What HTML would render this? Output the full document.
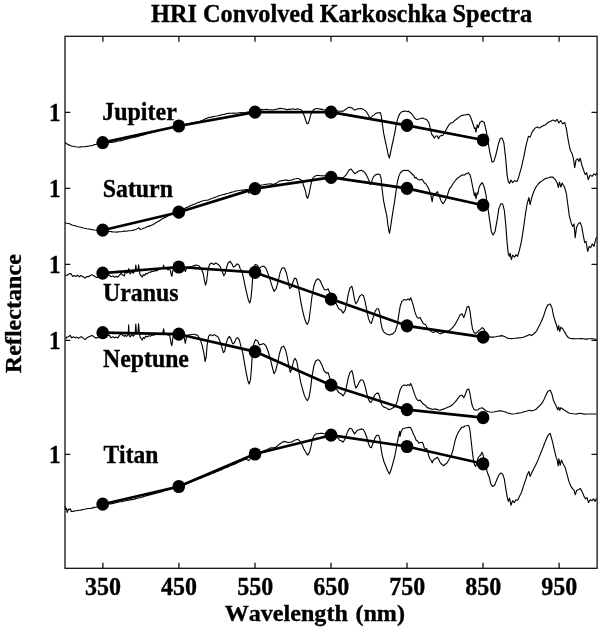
<!DOCTYPE html>
<html><head><meta charset="utf-8"><title>HRI Convolved Karkoschka Spectra</title>
<style>html,body{margin:0;padding:0;background:#fff}svg{display:block}text{font-family:"Liberation Serif","DejaVu Serif",serif;font-weight:bold;font-size:23.8px;fill:#000;stroke:#000;stroke-width:0.35px;font-kerning:none;font-variant-ligatures:none}</style></head><body>
<svg width="600" height="627" viewBox="0 0 600 627">
<rect width="600" height="627" fill="#fff"/>
<g fill="none" stroke="#111" stroke-width="1.3">
<rect x="65.00" y="36.30" width="532.10" height="532.00"/>
<path d="M102.9 36.3v5.5M102.9 568.3v-5.5"/>
<path d="M178.9 36.3v5.5M178.9 568.3v-5.5"/>
<path d="M255.0 36.3v5.5M255.0 568.3v-5.5"/>
<path d="M331.0 36.3v5.5M331.0 568.3v-5.5"/>
<path d="M407.0 36.3v5.5M407.0 568.3v-5.5"/>
<path d="M483.0 36.3v5.5M483.0 568.3v-5.5"/>
<path d="M559.1 36.3v5.5M559.1 568.3v-5.5"/>
<path d="M65.00 112.35h5.3M597.10 112.35h-5.6" stroke-width="1.1"/>
<path d="M65.00 188.35h5.3M597.10 188.35h-5.6" stroke-width="1.1"/>
<path d="M65.00 264.35h5.3M597.10 264.35h-5.6" stroke-width="1.1"/>
<path d="M65.00 340.35h5.3M597.10 340.35h-5.6" stroke-width="1.1"/>
<path d="M65.00 454.35h5.3M597.10 454.35h-5.6" stroke-width="1.1"/>
</g>
<g fill="none" stroke="#000" stroke-width="1.12" stroke-linejoin="round">
<polyline points="65.0,142.6 66.5,143.5 68.0,144.6 69.4,145.1 70.7,145.7 72.1,146.2 73.7,146.3 75.4,146.8 77.1,147.0 78.8,147.2 80.4,146.9 82.1,146.8 83.6,146.7 85.1,146.7 86.6,146.4 88.1,146.2 89.8,145.8 91.5,145.7 93.2,145.2 94.5,144.6 95.8,144.5 97.2,143.8 99.0,143.5 100.8,142.9 102.6,142.4 104.5,142.6 106.4,142.5 108.2,142.8 109.8,142.4 111.5,142.5 113.1,142.2 114.7,141.9 116.3,141.6 117.9,141.0 119.5,140.9 121.1,140.6 122.7,140.2 124.3,139.6 125.9,139.3 127.5,138.9 129.1,138.5 130.8,138.0 132.4,137.8 134.0,137.2 135.6,137.2 137.2,136.5 138.8,136.1 140.4,135.8 142.0,135.2 143.6,134.9 145.2,134.4 146.8,133.8 148.4,133.2 150.1,132.9 151.7,132.4 153.3,132.0 154.9,131.7 156.5,131.2 158.1,130.7 159.7,130.0 161.3,129.7 162.9,129.3 164.5,128.7 166.1,128.5 167.7,128.3 169.3,127.9 171.0,127.4 172.6,127.1 174.1,126.8 175.6,126.7 177.1,126.3 178.6,125.9 180.5,125.4 182.5,125.0 184.4,124.7 186.4,124.2 188.3,123.9 190.3,123.6 192.2,122.9 194.2,122.6 196.1,122.0 198.1,121.9 200.0,121.3 201.9,120.6 203.8,119.7 205.6,118.8 207.5,118.0 209.4,117.4 211.3,117.1 213.1,116.6 215.0,116.3 216.9,116.0 218.8,115.5 220.7,115.1 222.5,114.5 224.4,114.4 226.3,113.8 228.2,113.4 230.1,113.3 231.9,113.3 233.8,113.1 235.7,113.2 237.6,113.0 239.2,112.8 240.9,112.6 242.6,112.7 244.2,112.5 245.9,112.3 247.6,112.0 249.3,112.0 251.1,112.0 252.8,111.8 254.6,111.5 256.6,110.7 258.5,110.1 260.5,109.7 262.0,109.4 263.5,109.7 265.0,109.5 266.5,109.4 268.0,109.6 269.5,109.7 271.0,109.7 272.5,110.0 274.4,109.5 276.2,109.2 278.1,108.9 280.0,108.2 281.9,108.6 283.8,108.8 285.2,109.1 286.8,109.7 288.2,109.4 289.8,109.4 291.2,109.2 292.8,108.8 294.2,109.2 295.8,109.4 296.9,108.9 298.0,108.8 299.5,109.5 301.0,109.7 302.8,112.2 304.3,116.0 305.8,120.5 307.0,123.8 308.2,123.5 309.4,119.8 310.6,115.2 311.8,112.2 313.3,110.0 315.2,108.8 316.8,108.6 318.2,108.8 320.1,109.1 322.0,109.4 323.5,109.8 325.0,110.0 326.5,110.4 328.0,110.8 329.5,110.7 331.0,111.2 332.8,111.1 334.5,111.0 336.2,111.2 338.0,111.0 339.8,111.2 341.6,111.0 343.3,111.1 344.8,110.0 346.2,108.9 347.6,108.1 348.9,107.1 350.3,107.6 351.6,107.8 353.0,108.9 354.5,110.0 355.9,109.6 357.4,108.9 358.9,108.8 360.5,108.5 362.0,108.8 363.4,109.4 364.9,110.4 366.3,111.6 367.4,113.5 368.5,115.2 370.1,118.3 371.2,117.1 372.3,116.1 373.8,115.1 375.2,113.8 376.8,113.1 378.3,112.7 380.1,112.5 381.2,115.6 382.4,124.5 383.7,133.4 385.3,141.2 386.8,147.9 388.2,154.6 389.3,158.0 390.4,153.5 391.7,146.8 393.5,139.0 395.1,131.2 396.4,123.4 398.0,117.8 399.7,113.8 400.9,112.6 402.0,111.6 403.3,111.4 404.6,111.1 406.3,111.3 408.0,111.6 408.5,111.2 410.0,112.6 411.5,113.5 413.0,115.8 414.5,118.0 415.6,118.9 416.8,119.5 418.2,119.2 419.8,118.8 420.9,118.5 422.0,118.0 423.1,118.2 424.2,118.8 425.4,119.1 426.5,119.5 427.6,120.9 428.8,122.5 430.2,127.8 431.8,134.5 433.2,136.0 434.3,138.2 435.8,136.0 437.4,136.0 438.5,138.7 440.0,136.0 441.5,135.6 443.0,135.2 444.8,132.2 446.8,128.5 447.9,126.6 449.0,124.8 450.5,123.2 451.6,122.7 452.8,122.5 453.9,121.4 455.0,120.2 456.5,119.3 458.0,118.0 459.5,116.9 461.0,115.8 462.5,115.4 464.0,115.0 465.5,114.9 467.0,114.5 468.5,114.2 470.0,115.8 471.5,119.5 473.0,124.0 474.5,128.5 475.2,127.8 476.0,132.2 477.2,124.8 478.2,127.8 479.8,122.5 480.9,121.8 482.0,121.0 483.1,121.8 484.2,122.5 485.3,126.9 486.3,131.3 488.1,142.6 489.1,148.1 490.1,153.8 491.1,157.9 492.1,162.1 493.8,161.4 494.8,158.3 495.8,155.1 497.0,150.1 498.1,145.1 499.1,142.0 500.1,138.8 501.1,138.2 502.1,138.1 503.8,142.6 505.6,157.6 507.1,175.1 508.3,181.4 509.6,183.4 510.9,180.1 512.6,182.6 513.6,181.6 514.6,180.6 515.9,181.2 517.1,181.4 518.9,176.4 520.1,171.9 521.4,167.6 522.6,162.1 523.9,156.3 525.1,150.1 526.4,143.8 527.4,140.1 528.4,136.3 530.1,137.1 531.1,134.6 532.1,132.1 533.6,130.1 535.1,128.0 536.4,127.5 537.6,127.0 538.6,127.7 539.6,128.0 540.9,127.1 542.2,126.3 543.7,125.4 545.2,125.0 547.0,123.3 548.9,122.0 550.8,121.2 552.7,120.0 553.9,120.5 555.2,121.3 556.2,120.3 557.2,119.5 558.9,123.0 560.7,120.5 561.7,122.2 562.7,123.8 563.7,123.2 564.7,122.5 566.4,128.8 568.2,140.1 569.2,145.0 570.2,150.1 571.2,152.0 572.2,153.8 573.5,158.8 574.7,167.6 576.0,160.1 577.7,158.8 579.0,161.4 580.2,158.1 582.0,165.6 583.0,168.5 584.0,171.4 585.2,174.6 586.7,172.6 588.2,179.6 589.2,177.3 590.2,175.1 592.0,176.4 593.0,175.2 594.0,173.9 595.7,175.1 596.7,172.6"/>
<polyline points="65.0,222.7 66.9,223.2 68.8,223.5 70.6,224.2 72.5,225.2 74.2,225.5 75.9,226.0 77.5,226.5 79.4,227.0 81.3,227.3 83.2,228.0 85.0,228.2 86.9,228.7 88.8,229.0 90.7,229.4 92.6,229.7 94.4,230.0 96.3,230.2 98.2,230.6 100.1,230.7 101.9,231.0 103.8,231.1 105.7,231.1 107.6,231.5 109.5,231.5 111.3,231.6 113.2,232.0 115.1,232.0 117.0,232.1 118.8,231.7 120.7,231.7 122.6,231.5 124.5,231.1 126.4,231.3 128.2,230.7 130.1,230.7 131.8,230.5 133.5,230.1 135.1,229.7 137.0,228.9 138.9,227.7 140.1,229.5 141.8,229.0 143.5,228.3 145.1,227.7 147.0,226.8 148.9,226.1 150.8,225.6 152.7,224.7 154.5,223.7 156.4,222.3 158.3,221.5 160.2,220.2 162.0,219.0 163.9,217.9 165.8,217.2 167.7,216.0 169.6,215.3 171.4,214.3 173.3,213.6 175.2,212.7 177.1,211.8 178.9,211.1 180.8,210.6 182.7,209.7 184.6,208.6 186.5,207.5 188.3,206.9 190.2,205.7 192.1,204.9 194.0,204.3 195.9,203.6 197.7,202.7 199.6,202.1 201.5,201.3 203.4,200.7 205.2,200.2 206.4,200.3 207.5,200.2 209.4,199.4 211.3,198.5 213.1,198.0 215.0,197.2 216.9,196.7 218.8,195.8 220.7,195.3 222.5,194.7 224.4,194.4 226.3,193.5 228.2,193.3 230.1,192.7 231.9,192.1 233.8,191.8 235.7,191.0 237.6,190.7 239.2,190.5 240.9,190.2 242.6,190.0 244.2,190.1 245.9,189.6 247.6,189.7 248.8,193.2 250.1,191.0 251.3,188.9 253.0,188.7 254.6,188.2 256.6,187.0 258.5,186.4 260.5,185.2 262.0,185.0 263.5,184.8 265.0,184.5 266.5,184.2 268.4,184.0 270.2,183.9 271.8,184.1 273.2,184.5 274.8,183.8 276.2,183.3 277.8,182.1 279.2,181.2 280.8,180.9 282.2,180.6 283.8,180.4 285.2,180.0 286.8,180.1 288.2,180.6 289.8,180.2 291.2,180.3 292.4,179.7 293.5,179.2 294.6,179.0 295.8,178.8 296.9,178.5 298.0,178.5 299.1,178.8 300.2,179.4 302.2,180.8 303.2,184.5 304.3,187.5 305.5,191.2 306.4,195.8 307.3,198.3 308.2,197.2 309.1,193.5 310.0,189.0 310.9,184.5 311.8,180.8 313.0,177.8 314.8,176.2 316.8,175.5 317.9,175.3 319.0,175.5 320.5,175.8 322.0,175.8 323.5,175.9 325.0,175.8 326.5,175.8 328.0,176.1 329.5,176.3 331.0,176.7 332.8,177.1 334.5,177.3 336.2,177.6 338.0,177.4 339.8,177.6 341.6,177.8 343.3,177.6 344.8,176.2 346.2,174.7 347.6,172.5 348.9,170.2 350.0,169.6 351.1,169.1 352.9,171.3 354.7,173.6 355.7,173.1 356.7,172.5 357.8,171.7 358.9,170.9 360.1,170.6 361.2,170.2 362.3,170.9 363.4,171.3 364.5,172.4 365.6,173.6 367.4,176.9 369.0,180.7 370.3,184.7 371.7,181.4 373.4,176.9 374.6,175.6 375.7,174.7 377.0,174.4 378.3,174.0 380.1,174.7 381.2,179.1 382.1,189.2 383.5,200.3 385.3,209.2 386.8,215.9 387.9,224.8 388.8,230.4 389.5,233.3 390.4,228.2 391.7,219.3 393.1,210.4 394.6,201.4 396.0,191.4 397.3,182.5 398.6,176.9 400.2,173.1 401.3,172.0 402.4,170.9 403.8,170.5 405.1,170.2 406.5,170.5 408.0,170.4 409.0,170.9 410.0,171.8 411.1,173.0 412.2,174.0 414.2,176.2 415.2,178.2 416.0,177.3 417.5,179.2 418.6,179.7 419.8,180.0 421.7,179.2 423.2,180.8 424.2,182.7 425.8,183.8 427.2,186.0 428.8,189.0 430.2,192.8 431.3,197.2 432.2,201.8 432.8,197.2 433.7,195.0 435.2,194.2 436.2,192.8 437.4,191.7 438.5,194.2 439.7,197.2 441.2,201.0 443.0,203.7 444.5,201.8 446.0,198.8 447.5,195.0 448.7,191.2 449.8,188.2 450.8,187.5 452.0,185.2 453.5,183.0 454.6,181.5 455.8,180.0 456.9,178.9 458.0,177.8 459.1,177.2 460.2,176.2 461.4,175.6 462.5,174.8 464.0,175.2 465.1,174.6 466.2,173.7 467.4,173.2 468.5,172.8 470.0,174.8 471.2,179.2 472.2,184.5 473.3,189.8 474.5,195.8 475.2,192.8 476.0,198.8 477.1,192.8 477.8,194.2 479.0,187.5 480.5,184.5 482.3,182.7 483.5,185.2 484.7,189.0 485.8,193.8 487.6,206.3 489.3,217.6 490.3,224.4 491.3,231.4 493.1,235.1 494.1,233.3 495.1,231.4 496.1,225.7 497.1,220.1 498.8,208.8 499.8,206.4 500.8,203.8 502.6,203.8 504.3,210.1 505.8,225.1 507.1,242.6 508.3,253.9 509.3,256.4 510.1,253.2 511.4,259.7 512.6,255.2 513.6,256.1 514.6,257.2 515.9,254.7 517.6,256.4 519.4,250.2 520.4,245.8 521.4,241.4 522.4,235.1 523.4,228.9 525.1,216.3 526.1,210.0 527.1,203.8 528.9,197.6 530.1,204.6 531.4,198.8 532.6,195.0 533.9,191.3 535.1,188.8 536.4,186.3 538.3,184.0 540.2,182.0 542.0,180.9 543.9,179.5 545.5,178.6 547.2,178.0 548.7,177.7 550.2,177.0 551.4,177.1 552.7,177.0 553.9,178.3 555.2,179.5 556.2,181.3 557.2,183.0 558.4,187.5 559.4,182.0 560.9,187.0 562.2,183.0 563.4,185.3 564.7,187.5 566.4,193.8 567.7,203.8 569.4,216.3 570.5,220.1 571.5,223.9 572.7,226.4 574.0,223.9 575.2,237.6 576.5,227.6 578.2,223.9 579.2,223.1 580.2,222.6 581.7,226.4 583.2,235.1 584.7,242.6 586.0,241.4 587.7,251.4 589.2,246.4 590.7,247.6 592.2,243.9 594.0,246.4 595.2,241.4 596.5,237.1"/>
<polyline points="65.0,275.5 66.3,275.3 67.5,275.1 69.2,273.8 70.9,273.5 72.6,276.5 74.2,275.5 75.9,276.5 77.6,275.1 79.3,276.8 80.9,275.5 82.6,276.5 83.9,277.2 85.1,278.1 86.8,276.5 88.5,276.8 90.2,275.5 91.8,274.8 93.5,275.5 95.2,276.8 96.9,277.6 98.8,277.0 100.8,276.0 102.7,275.1 104.4,275.2 106.1,275.3 107.7,274.9 109.4,275.1 111.1,276.8 112.8,276.0 114.4,277.1 116.1,276.5 117.8,277.1 119.5,275.1 121.1,273.5 122.8,275.1 124.5,276.0 125.0,271.5 126.6,273.1 128.2,272.0 128.7,268.5 129.1,272.3 130.3,273.9 131.7,271.5 133.3,273.1 135.2,270.7 135.8,265.1 136.5,270.7 137.8,270.7 138.6,264.7 139.4,271.5 140.1,274.7 141.1,275.5 142.2,277.1 143.3,274.7 144.5,275.5 145.7,273.6 147.3,273.9 148.9,272.3 150.5,272.3 152.1,271.2 153.7,271.5 155.3,270.4 156.9,270.7 158.5,269.5 159.7,269.3 160.9,268.8 162.8,268.3 163.6,265.1 164.4,268.8 165.4,268.7 166.5,268.8 168.1,269.9 169.3,268.3 170.4,270.4 171.2,274.7 171.9,276.3 172.5,272.3 173.3,268.3 174.4,267.5 175.9,267.0 177.4,266.6 178.9,266.3 180.6,266.8 182.3,267.3 184.0,267.5 185.3,271.5 186.4,268.8 187.5,267.2 189.0,267.0 190.5,266.5 192.0,266.3 193.5,265.9 195.0,265.9 195.1,265.0 197.0,265.3 198.8,265.8 200.1,267.2 201.3,268.8 202.3,271.3 203.3,273.8 204.6,281.3 205.6,285.1 206.6,281.3 208.1,268.8 209.6,264.5 211.4,263.0 212.6,263.8 213.9,264.5 215.6,263.0 216.9,263.6 218.1,264.5 219.1,265.3 220.1,266.3 221.1,268.9 222.1,271.3 223.9,275.8 225.1,273.8 226.9,266.3 228.4,262.5 230.1,261.3 231.9,263.8 233.4,267.0 235.1,266.3 236.9,263.8 237.9,264.5 238.9,265.0 240.2,268.8 241.9,271.3 243.4,277.6 245.2,286.3 246.9,293.8 248.4,300.1 249.7,303.1 250.9,298.8 251.9,288.8 252.7,277.6 253.7,267.5 255.2,264.5 257.0,265.0 258.0,266.4 259.0,268.0 260.0,267.7 261.0,267.0 262.3,266.5 263.6,266.0 264.8,267.1 266.0,268.4 267.0,271.1 268.0,273.6 269.0,276.6 270.0,279.6 271.0,282.8 272.0,286.0 273.0,288.7 274.0,291.4 275.0,290.2 276.0,289.0 277.0,285.6 278.0,282.0 279.0,277.5 280.0,273.0 281.0,270.4 282.0,268.0 283.2,267.8 284.4,268.0 285.4,270.5 286.4,273.0 288.0,280.0 289.6,288.4 291.2,287.6 293.0,282.0 294.6,278.0 296.4,279.0 298.0,285.0 299.4,293.0 300.5,300.1 301.5,305.1 302.5,310.1 304.3,317.6 305.3,320.5 306.3,323.4 307.5,324.4 309.0,320.1 310.5,308.8 312.0,296.3 313.8,286.3 314.8,283.4 315.8,280.6 316.9,279.5 318.0,278.8 319.0,279.6 320.1,280.6 321.1,282.8 322.1,285.1 323.2,287.3 324.3,289.6 325.3,289.7 326.3,290.1 328.1,288.8 329.6,292.6 331.1,295.7 332.6,298.8 334.4,301.2 336.3,303.8 337.6,306.4 338.8,308.8 340.1,309.4 341.3,310.1 343.1,313.1 344.1,311.6 345.1,310.1 346.8,302.6 348.3,293.8 350.1,287.6 351.9,286.3 353.1,291.3 354.6,300.1 355.9,303.8 357.6,301.3 358.6,298.9 359.6,296.3 360.6,295.4 361.6,294.6 363.4,295.6 365.1,301.3 366.9,311.4 368.6,318.9 370.1,322.6 371.4,323.4 373.1,317.6 374.1,314.6 375.1,311.4 376.9,308.8 378.6,308.8 379.9,313.9 380.9,322.6 382.2,328.9 383.9,332.1 385.2,333.0 386.4,333.9 387.9,334.5 389.4,335.1 391.0,334.4 392.7,333.9 393.9,332.6 395.2,331.4 396.2,328.3 397.2,325.1 398.7,315.1 400.2,306.3 401.9,301.3 402.9,300.6 403.9,299.6 405.2,299.7 406.4,300.1 408.2,298.8 409.7,300.1 410.7,297.6 412.0,301.3 413.2,305.1 414.7,311.4 416.5,316.4 418.2,318.1 419.2,318.0 420.2,317.6 422.0,321.4 423.0,322.8 424.0,323.9 425.7,324.6 427.2,328.1 429.0,330.1 430.0,330.6 431.0,331.4 432.1,332.1 433.2,332.6 434.2,331.9 435.2,331.4 436.5,331.6 437.7,332.1 438.9,333.2 440.0,333.9 441.7,333.1 443.3,332.6 445.0,332.1 446.7,331.4 448.3,330.9 450.0,330.1 451.3,329.0 452.5,327.6 453.8,326.1 455.0,324.6 456.3,322.3 457.5,320.1 458.8,317.6 460.0,315.1 461.0,314.3 462.0,313.8 463.8,317.6 465.5,312.6 467.0,307.0 468.8,306.3 470.0,311.3 471.3,321.3 472.5,328.8 474.3,333.1 475.3,333.0 476.3,333.1 478.0,331.3 479.0,330.3 480.1,329.6 481.1,328.7 482.1,327.6 483.8,328.8 485.6,332.6 486.6,334.0 487.6,335.6 488.8,336.5 490.1,337.1 491.9,337.1 493.8,337.1 495.7,336.8 497.6,336.3 499.5,336.1 501.3,335.6 502.6,335.9 503.8,336.3 505.5,337.1 507.1,338.1 508.5,338.4 509.9,338.5 511.4,338.6 513.0,338.5 514.7,338.3 516.4,338.3 518.0,337.9 519.7,337.8 521.4,337.6 523.2,337.2 525.1,336.6 526.4,336.0 527.6,335.6 528.6,334.9 529.6,334.6 531.4,335.6 532.6,334.7 533.9,333.8 535.1,332.5 536.4,331.3 537.6,328.9 538.9,326.3 540.2,323.9 541.4,321.3 542.7,318.2 543.9,315.1 544.9,311.9 545.9,308.8 547.7,305.0 548.9,304.6 550.2,304.0 551.9,307.5 553.4,315.1 555.2,321.3 556.9,326.3 557.7,330.1 558.7,325.6 559.7,331.3 560.9,327.1 562.7,328.8 563.7,330.5 564.7,332.1 566.4,335.1 567.4,336.5 568.4,337.6 569.9,338.2 571.5,338.6 573.3,338.6 575.2,338.8 576.9,338.7 578.5,338.7 580.2,338.6 581.9,338.6 583.6,338.8 585.2,339.1 586.9,339.1 588.6,338.7 590.2,338.8 591.8,338.8 593.4,338.8 594.9,339.2 596.5,339.1"/>
<polyline points="65.9,338.8 66.7,337.1 68.4,336.8 70.1,335.4 71.7,337.9 73.4,336.8 75.1,337.9 76.8,337.1 78.4,338.4 80.1,337.1 81.8,336.8 83.5,338.4 85.1,339.6 86.8,337.9 88.5,337.1 90.2,336.3 91.8,335.4 93.5,336.3 95.2,337.9 96.9,337.9 98.8,336.9 100.8,336.4 102.7,335.4 104.4,335.5 106.1,335.2 107.7,335.4 109.4,335.4 111.1,337.9 112.8,336.8 114.4,337.9 116.1,337.1 117.8,337.9 119.5,335.4 121.1,333.8 122.8,335.4 124.5,336.3 125.0,335.3 126.6,336.4 128.2,334.5 128.7,324.9 129.1,335.3 130.3,336.9 131.7,334.5 133.3,336.1 135.2,333.7 135.8,324.1 136.5,333.7 137.8,333.7 138.6,323.7 139.4,333.7 140.1,336.9 141.1,338.5 142.2,340.1 143.3,337.4 144.5,338.5 145.7,336.1 147.3,336.9 148.9,335.8 150.5,336.1 152.1,335.0 153.7,335.3 155.3,334.5 156.9,334.5 158.5,333.7 159.7,333.6 160.9,333.7 162.8,332.9 163.6,328.9 164.4,333.2 165.4,333.6 166.5,333.7 168.1,335.3 169.3,333.7 170.4,339.3 171.2,344.1 171.9,345.7 172.5,340.9 173.3,335.3 174.4,334.2 175.9,334.0 177.4,333.5 178.9,333.2 180.6,334.2 182.3,335.1 184.0,336.1 185.3,343.3 186.4,337.7 187.5,335.3 189.0,334.9 190.5,334.7 192.0,334.5 193.5,334.3 195.0,334.2 195.1,334.7 196.3,334.9 197.6,335.2 198.8,337.1 200.1,338.9 201.1,342.1 202.1,345.2 203.8,352.7 205.1,361.5 206.1,357.7 207.1,345.2 208.6,336.4 210.1,334.7 211.4,335.0 212.6,335.7 213.6,335.1 214.6,334.7 216.1,335.7 217.6,336.4 218.6,338.3 219.6,340.2 220.6,343.3 221.6,346.4 223.4,352.7 224.6,351.4 226.1,343.9 227.6,338.9 229.4,336.4 230.9,338.9 232.6,343.9 234.4,342.7 235.9,338.9 237.6,337.7 239.4,340.2 240.9,346.4 242.7,352.7 244.4,362.7 246.2,372.7 247.7,380.2 249.2,384.0 250.4,380.2 251.4,369.0 252.2,356.4 253.2,346.4 254.7,341.4 255.6,339.6 256.6,340.4 257.6,341.0 259.4,345.0 261.0,344.4 262.3,344.1 263.6,343.6 264.8,344.7 266.0,346.0 267.0,348.5 268.0,351.0 269.0,354.5 270.0,358.0 271.0,361.9 272.0,366.0 273.0,369.8 274.0,373.6 275.6,371.0 276.6,366.9 277.6,363.0 278.6,357.9 279.6,353.0 280.6,350.0 281.6,347.0 282.6,346.7 283.6,346.0 284.6,348.0 285.6,350.0 287.2,357.0 288.8,366.0 290.4,372.4 292.0,368.0 293.6,361.0 295.0,358.4 296.6,361.0 298.0,368.0 299.4,375.0 300.5,381.4 301.5,385.2 302.5,388.9 304.3,395.1 305.3,397.4 306.3,399.6 307.5,400.6 309.0,397.6 310.5,388.9 312.0,376.3 313.8,366.3 314.8,363.5 315.8,360.8 316.9,360.4 318.0,359.6 319.0,360.3 320.1,361.3 321.1,363.4 322.1,365.6 323.2,368.4 324.3,371.3 325.3,372.0 326.3,373.1 328.1,372.6 329.6,377.6 331.1,381.4 332.6,385.1 334.4,387.1 336.3,388.9 337.6,390.6 338.8,392.6 340.1,393.2 341.3,393.9 343.1,395.9 344.1,394.3 345.1,392.6 346.8,385.1 348.3,377.6 350.1,372.1 351.9,370.6 353.1,375.1 354.6,383.9 355.9,388.1 357.6,385.6 358.6,383.5 359.6,381.4 360.6,380.3 361.6,379.6 363.4,380.9 365.1,386.4 366.9,393.9 368.6,399.6 370.1,402.1 371.4,402.1 373.1,398.1 374.1,396.4 375.1,394.6 376.9,393.1 378.6,393.4 379.9,397.6 380.9,402.6 382.2,405.6 383.9,407.1 385.2,407.5 386.4,408.1 387.9,409.1 389.4,409.6 391.0,409.0 392.7,408.1 393.9,407.3 395.2,406.4 396.2,404.0 397.2,401.4 398.7,395.1 400.2,389.6 401.9,386.4 402.9,385.6 403.9,385.1 405.2,385.2 406.4,385.6 408.2,384.6 409.7,385.6 410.7,383.4 412.0,386.4 413.2,390.1 414.7,394.6 416.5,398.9 418.2,400.6 419.2,400.4 420.2,400.1 422.0,402.6 423.0,403.8 424.0,404.6 425.7,405.6 427.2,407.6 429.0,408.1 430.0,408.7 431.0,408.9 432.1,409.3 433.2,409.4 434.2,409.2 435.2,408.9 436.5,409.2 437.7,409.6 438.9,410.0 440.0,410.2 441.7,409.6 443.3,409.1 445.0,408.4 446.7,407.7 448.3,407.1 450.0,406.5 451.3,405.5 452.5,404.7 453.8,403.4 455.0,402.2 456.3,400.7 457.5,398.9 458.8,397.4 460.0,395.7 461.0,395.2 462.0,395.2 463.8,397.7 465.5,393.9 467.0,389.7 468.8,388.9 470.0,393.9 471.3,401.5 472.5,406.5 474.3,409.7 475.3,409.8 476.3,410.2 478.0,409.7 479.0,408.9 480.1,408.2 481.1,408.0 482.1,407.7 483.8,409.0 485.6,410.7 486.6,411.0 487.6,411.5 488.8,411.7 490.1,412.0 491.9,412.2 493.8,412.0 495.7,411.5 497.6,411.2 499.5,410.9 501.3,410.7 502.6,411.3 503.8,411.5 505.5,412.0 507.1,412.7 508.5,413.2 509.9,413.4 511.4,414.0 513.0,414.0 514.7,413.8 516.4,413.5 518.0,413.1 519.7,413.0 521.4,412.7 523.2,412.0 525.1,411.5 526.4,411.2 527.6,410.7 528.6,410.5 529.6,410.2 531.4,411.0 532.6,410.5 533.9,410.2 535.1,409.8 536.4,409.0 537.6,407.7 538.9,406.5 540.2,405.2 541.4,404.0 542.7,401.9 543.9,399.7 544.9,397.4 545.9,395.2 547.7,391.4 548.9,390.8 550.2,390.2 551.9,393.9 553.4,400.2 555.2,404.0 556.9,407.7 557.7,409.7 558.7,407.2 559.7,410.2 560.9,407.7 562.7,409.0 563.7,409.8 564.7,410.2 566.4,411.5 567.4,412.0 568.4,412.7 569.9,413.3 571.5,413.5 573.3,413.8 575.2,414.0 576.9,413.9 578.5,413.5 580.2,413.2 581.9,413.7 583.6,413.9 585.2,414.2 586.9,414.0 588.6,414.0 590.2,414.0 591.8,414.0 593.4,414.0 594.9,414.0 596.5,414.0"/>
<polyline points="65.0,506.0 65.8,509.5 66.5,508.5 67.2,512.5 68.5,509.0 69.5,509.5 70.5,509.0 71.2,511.5 73.1,511.4 75.0,510.7 76.9,510.6 78.8,510.2 80.7,510.1 82.6,509.5 84.6,509.2 86.5,508.7 88.4,508.5 90.3,508.4 92.2,508.1 94.1,507.4 96.0,507.2 97.6,506.6 99.3,505.7 100.9,505.2 102.6,504.4 104.4,504.3 106.3,504.1 108.2,504.0 110.1,503.9 112.0,503.6 113.9,503.2 115.9,502.7 117.8,502.2 119.7,501.8 121.6,501.8 123.6,501.2 125.5,500.8 127.4,500.4 129.3,499.9 131.3,499.6 133.2,499.5 135.1,498.9 137.1,498.3 139.0,497.9 140.9,497.5 142.8,496.9 144.8,496.2 146.7,495.6 148.6,495.1 150.5,494.6 152.5,494.1 154.4,493.6 156.3,493.1 158.2,492.7 160.2,492.2 162.0,491.6 163.8,491.0 165.6,490.6 167.4,489.9 169.2,489.7 171.0,488.9 172.8,488.5 174.6,487.9 176.4,487.4 178.2,486.9 180.2,485.9 182.1,485.5 184.1,484.7 186.1,483.5 188.0,482.9 190.0,482.2 191.9,481.6 193.8,480.8 195.6,480.0 197.5,479.4 199.4,478.4 201.3,478.0 203.1,477.0 205.0,476.4 206.9,475.5 208.8,475.0 210.7,474.0 212.5,473.3 214.4,472.6 216.3,471.7 218.2,471.1 220.1,470.2 221.9,469.6 223.8,468.6 225.7,467.7 227.6,467.2 229.4,466.1 231.3,465.3 233.2,464.8 235.1,463.9 237.0,462.9 238.8,462.0 240.7,461.5 242.6,460.3 244.5,459.8 246.3,458.9 247.6,459.9 248.8,460.6 250.1,459.0 251.4,457.6 253.0,456.1 254.6,454.4 256.2,453.8 257.8,453.0 259.4,452.4 261.0,451.8 262.6,451.4 264.5,450.6 266.4,449.9 268.3,448.9 270.1,448.1 271.8,447.9 273.5,447.7 275.1,447.6 277.0,446.2 278.9,444.6 280.6,443.6 282.2,442.3 283.9,441.4 285.8,441.8 287.7,442.6 289.5,442.2 291.4,442.1 293.0,441.2 294.7,440.1 296.2,439.8 297.7,439.3 298.9,440.2 300.2,441.4 301.2,443.3 302.2,445.1 303.9,448.9 304.9,450.8 305.9,452.6 307.7,455.1 309.4,452.6 311.0,446.4 312.2,440.1 314.0,435.6 315.2,434.5 316.5,433.8 318.3,433.7 320.2,433.3 322.1,433.4 324.0,433.8 325.7,434.1 327.4,434.6 329.0,434.8 330.7,435.1 330.8,435.2 332.5,435.7 334.2,436.3 335.9,437.3 337.6,437.7 338.6,438.7 339.6,440.2 341.3,440.7 343.1,442.2 344.1,440.5 345.1,438.9 346.8,433.9 348.3,430.2 350.1,428.2 351.9,428.9 353.1,431.4 354.6,433.9 355.9,432.2 357.6,430.2 358.6,429.8 359.6,429.7 360.6,429.2 361.6,428.9 363.4,429.7 365.1,432.7 366.9,437.7 368.6,444.0 370.1,447.2 371.4,447.7 373.1,442.7 374.1,440.2 375.1,437.7 376.9,435.2 378.6,435.2 379.9,438.9 380.9,447.7 382.2,455.2 383.9,461.5 384.9,464.0 385.9,466.5 387.7,471.0 389.4,474.0 390.9,470.3 392.7,464.0 393.7,460.2 394.7,456.5 396.4,447.7 398.2,437.7 399.7,431.4 400.0,436.5 401.2,431.2 402.7,428.7 404.5,428.2 405.6,428.0 406.8,427.8 407.9,427.6 409.0,427.2 410.5,427.5 412.0,430.5 413.5,434.2 415.0,437.2 416.2,440.2 417.7,441.0 418.8,443.2 420.2,442.5 422.2,442.2 423.2,444.0 424.3,447.8 425.5,449.2 426.7,448.5 427.8,452.2 428.8,456.0 430.0,459.0 431.2,460.5 432.2,462.8 433.3,460.2 434.5,459.3 436.0,458.2 437.5,457.2 438.7,459.3 439.8,462.0 441.2,463.8 442.8,465.0 443.8,465.8 445.3,464.2 446.8,463.2 448.3,460.8 449.8,458.2 451.3,455.2 452.8,450.8 454.0,445.5 455.2,440.2 456.7,435.8 458.5,432.0 460.3,429.3 461.8,427.2 463.3,427.2 464.8,426.0 466.8,425.7 468.2,425.2 469.3,426.8 470.2,432.0 470.9,438.8 471.7,445.5 472.4,452.2 473.2,458.2 473.9,462.8 474.7,465.0 475.6,466.5 476.5,464.2 477.4,460.5 478.3,457.5 479.5,456.0 480.7,455.2 481.9,452.2 482.8,453.8 483.7,457.5 484.8,462.0 485.8,466.5 487.0,471.0 488.2,474.8 489.4,477.8 490.8,483.9 492.6,486.4 493.6,485.8 494.6,485.2 495.6,482.6 496.6,480.2 497.7,477.7 498.8,475.1 499.8,474.2 500.8,473.1 502.6,473.9 504.3,478.9 505.8,488.9 507.1,496.4 508.3,501.4 509.6,498.2 510.9,505.2 512.6,500.7 514.4,502.7 515.9,499.7 517.6,500.2 519.4,496.4 520.4,494.5 521.4,492.7 522.4,489.5 523.4,486.4 525.1,481.4 526.1,478.4 527.1,475.1 528.9,471.4 530.1,476.4 531.9,472.6 533.1,470.1 534.4,467.6 535.6,465.2 536.9,462.6 538.1,459.6 539.4,456.4 540.7,453.2 541.9,450.1 543.2,447.0 544.4,443.8 545.4,441.4 546.4,438.8 548.2,435.1 549.2,434.2 550.2,433.3 551.4,437.6 552.7,442.6 554.4,450.1 555.9,456.4 557.2,460.1 558.2,465.9 558.9,458.9 560.2,465.1 561.4,460.1 563.2,463.9 564.2,465.8 565.2,467.6 566.9,473.9 567.9,477.6 568.9,481.4 569.9,483.9 571.0,486.4 572.7,488.9 574.0,490.2 575.2,494.7 576.7,490.2 578.5,489.7 580.2,488.4 582.0,491.4 583.0,493.8 584.0,496.4 585.7,498.9 587.0,497.7 588.5,502.7 590.2,499.7 592.0,500.7 593.5,498.9 595.2,501.4 596.5,498.2"/>
</g>
<g fill="none" stroke="#000" stroke-width="2.7" stroke-linejoin="round">
<polyline points="102.7,142.6 178.8,126.0 255.0,112.2 331.1,112.1 407.0,125.3 483.1,140.0"/>
<polyline points="102.7,230.2 178.8,212.2 255.0,188.6 331.1,177.4 407.0,188.4 483.1,205.2"/>
<polyline points="102.7,273.2 178.8,267.0 255.0,272.4 331.1,299.1 407.0,325.8 483.1,337.2"/>
<polyline points="102.7,332.7 178.8,334.2 255.0,351.6 331.1,385.2 407.0,409.7 483.1,417.7"/>
<polyline points="102.7,504.2 178.8,486.5 255.0,454.0 331.1,435.2 407.0,446.5 483.1,463.8"/>
</g>
<g fill="#000">
<ellipse cx="102.7" cy="142.6" rx="6.3" ry="6.6"/>
<ellipse cx="178.8" cy="126.0" rx="6.3" ry="6.6"/>
<ellipse cx="255.0" cy="112.2" rx="6.3" ry="6.6"/>
<ellipse cx="331.1" cy="112.1" rx="6.3" ry="6.6"/>
<ellipse cx="407.0" cy="125.3" rx="6.3" ry="6.6"/>
<ellipse cx="483.1" cy="140.0" rx="6.3" ry="6.6"/>
<ellipse cx="102.7" cy="230.2" rx="6.3" ry="6.6"/>
<ellipse cx="178.8" cy="212.2" rx="6.3" ry="6.6"/>
<ellipse cx="255.0" cy="188.6" rx="6.3" ry="6.6"/>
<ellipse cx="331.1" cy="177.4" rx="6.3" ry="6.6"/>
<ellipse cx="407.0" cy="188.4" rx="6.3" ry="6.6"/>
<ellipse cx="483.1" cy="205.2" rx="6.3" ry="6.6"/>
<ellipse cx="102.7" cy="273.2" rx="6.3" ry="6.6"/>
<ellipse cx="178.8" cy="267.0" rx="6.3" ry="6.6"/>
<ellipse cx="255.0" cy="272.4" rx="6.3" ry="6.6"/>
<ellipse cx="331.1" cy="299.1" rx="6.3" ry="6.6"/>
<ellipse cx="407.0" cy="325.8" rx="6.3" ry="6.6"/>
<ellipse cx="483.1" cy="337.2" rx="6.3" ry="6.6"/>
<ellipse cx="102.7" cy="332.7" rx="6.3" ry="6.6"/>
<ellipse cx="178.8" cy="334.2" rx="6.3" ry="6.6"/>
<ellipse cx="255.0" cy="351.6" rx="6.3" ry="6.6"/>
<ellipse cx="331.1" cy="385.2" rx="6.3" ry="6.6"/>
<ellipse cx="407.0" cy="409.7" rx="6.3" ry="6.6"/>
<ellipse cx="483.1" cy="417.7" rx="6.3" ry="6.6"/>
<ellipse cx="102.7" cy="504.2" rx="6.3" ry="6.6"/>
<ellipse cx="178.8" cy="486.5" rx="6.3" ry="6.6"/>
<ellipse cx="255.0" cy="454.0" rx="6.3" ry="6.6"/>
<ellipse cx="331.1" cy="435.2" rx="6.3" ry="6.6"/>
<ellipse cx="407.0" cy="446.5" rx="6.3" ry="6.6"/>
<ellipse cx="483.1" cy="463.8" rx="6.3" ry="6.6"/>
</g>
<text transform="translate(341.6 22.2) scale(0.972 1)" text-anchor="middle" style="font-size:25px">HRI Convolved Karkoschka Spectra</text>
<text transform="translate(314.8 620.7)" text-anchor="middle" style="font-size:24.1px;word-spacing:1.6px">Wavelength (nm)</text>
<text transform="translate(21.3 313.7) rotate(-90)" text-anchor="middle" style="font-size:24.1px">Reflectance</text>
<text transform="translate(60.5 121.1) scale(0.94 1)" text-anchor="end" style="font-size:24.7px">1</text>
<text transform="translate(60.5 197.1) scale(0.94 1)" text-anchor="end" style="font-size:24.7px">1</text>
<text transform="translate(60.5 273.1) scale(0.94 1)" text-anchor="end" style="font-size:24.7px">1</text>
<text transform="translate(60.5 349.1) scale(0.94 1)" text-anchor="end" style="font-size:24.7px">1</text>
<text transform="translate(60.5 463.1) scale(0.94 1)" text-anchor="end" style="font-size:24.7px">1</text>
<text transform="translate(103.1 595.1) scale(0.95 1)" text-anchor="middle" style="font-size:25.3px">350</text>
<text transform="translate(179.1 595.1) scale(0.95 1)" text-anchor="middle" style="font-size:25.3px">450</text>
<text transform="translate(255.2 595.1) scale(0.95 1)" text-anchor="middle" style="font-size:25.3px">550</text>
<text transform="translate(331.2 595.1) scale(0.95 1)" text-anchor="middle" style="font-size:25.3px">650</text>
<text transform="translate(407.2 595.1) scale(0.95 1)" text-anchor="middle" style="font-size:25.3px">750</text>
<text transform="translate(483.2 595.1) scale(0.95 1)" text-anchor="middle" style="font-size:25.3px">850</text>
<text transform="translate(559.3 595.1) scale(0.95 1)" text-anchor="middle" style="font-size:25.3px">950</text>
<text transform="translate(102.2 119.9) scale(0.979 1)" style="font-size:24.5px">Jupiter</text>
<text transform="translate(102.7 197.0) scale(0.974 1)" style="font-size:24.5px">Saturn</text>
<text transform="translate(103.0 300.8) scale(0.973 1)" style="font-size:24.5px">Uranus</text>
<text transform="translate(103.0 366.7) scale(0.972 1)" style="font-size:24.5px">Neptune</text>
<text transform="translate(103.4 463.0) scale(0.962 1)" style="font-size:24.5px">Titan</text>
</svg></body></html>
